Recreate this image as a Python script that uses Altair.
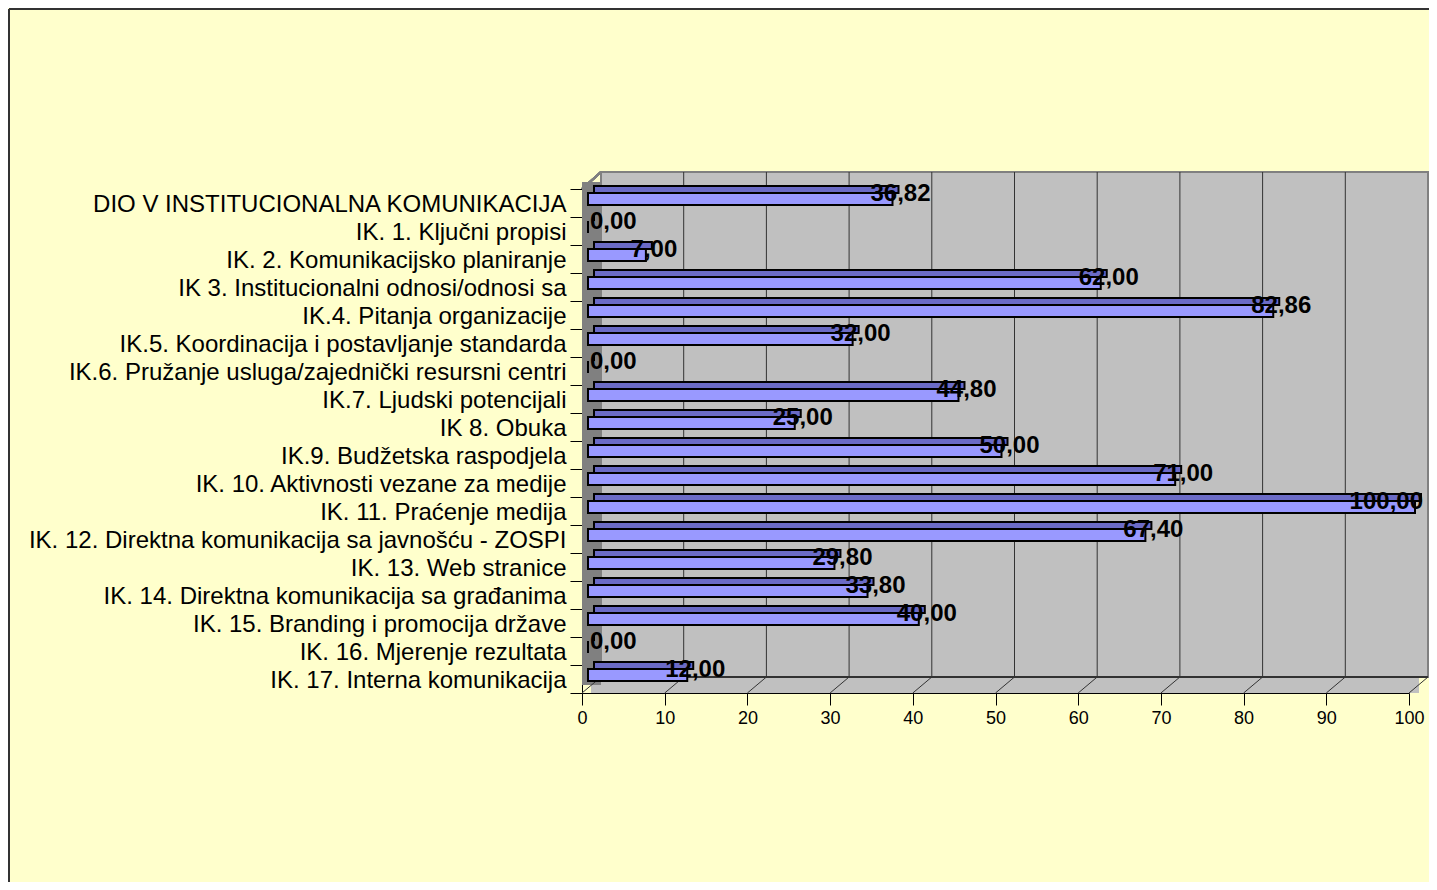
import altair as alt
import pandas as pd

categories = [
    "DIO V INSTITUCIONALNA KOMUNIKACIJA",
    "IK. 1. Ključni propisi",
    "IK. 2. Komunikacijsko planiranje",
    "IK 3. Institucionalni odnosi/odnosi sa",
    "IK.4. Pitanja organizacije",
    "IK.5. Koordinacija i postavljanje standarda",
    "IK.6. Pružanje usluga/zajednički resursni centri",
    "IK.7. Ljudski potencijali",
    "IK 8. Obuka",
    "IK.9. Budžetska raspodjela",
    "IK. 10. Aktivnosti vezane za medije",
    "IK. 11. Praćenje medija",
    "IK. 12. Direktna komunikacija sa javnošću - ZOSPI",
    "IK. 13. Web stranice",
    "IK. 14. Direktna komunikacija sa građanima",
    "IK. 15. Branding i promocija države",
    "IK. 16. Mjerenje rezultata",
    "IK. 17. Interna komunikacija",
]
values = [36.82, 0.00, 7.00, 62.00, 82.86, 32.00, 0.00, 44.80, 25.00,
          50.00, 71.00, 100.00, 67.40, 29.80, 33.80, 40.00, 0.00, 12.00]
ticks = [0, 10, 20, 30, 40, 50, 60, 70, 80, 90, 100]

FONT = "Liberation Sans"
W, H = 846, 521          # plot region (front plane + depth)
FRONT_W = 827            # front plane width (0..100)
DX, DY = 19, 16          # 3D depth offset

df = pd.DataFrame({
    "cat": categories,
    "value": values,
    "label": [f"{v:.2f}".replace(".", ",") for v in values],
})
tick_df = pd.DataFrame({"t": ticks})

xscale = alt.Scale(domain=[0, 100], range=[0, FRONT_W], nice=False, zero=True)
yscale = alt.Scale(domain=categories, range=[17, H], paddingInner=0, paddingOuter=0)

xaxis = alt.Axis(values=ticks, title=None, grid=False, domainColor="black",
                 domainWidth=1, tickColor="black", tickSize=12, tickWidth=1,
                 labelFont=FONT, labelFontSize=18, labelColor="black",
                 labelPadding=4, labelFlush=False, labelOverlap=False)
yaxis = alt.Axis(title=None, grid=False, domainColor="black", domainWidth=1,
                 tickColor="black", tickSize=12, tickWidth=1, tickBand="extent",
                 labelFont=FONT, labelFontSize=24, labelColor="black",
                 labelPadding=4, labelOffset=1, labelLimit=800)

X = lambda f: alt.X(f, type="quantitative", scale=xscale, axis=xaxis)
Y = alt.Y("cat:N", scale=yscale, axis=yaxis, sort=None)

# --- 3D frame -----------------------------------------------------------
back_wall = alt.Chart(tick_df).mark_rect(
    fill="#C0C0C0", stroke="#808080", strokeWidth=2
).encode(x=alt.value(DX), x2=alt.value(W), y=alt.value(0), y2=alt.value(H - DY))

floor = alt.Chart(tick_df).mark_rect(fill="#C0C0C0").encode(
    x=alt.value(DX / 2), x2=alt.value(FRONT_W + DX / 2),
    y=alt.value(H - DY), y2=alt.value(H))

left_wall = alt.Chart(tick_df).mark_rect(fill="#808080").encode(
    x=alt.value(0), x2=alt.value(DX), y=alt.value(17 - DY / 2 + 1), y2=alt.value(H - DY / 2))

edges = alt.Chart(tick_df).mark_rule(color="#808080", strokeWidth=2).encode(
    x=alt.value(0), x2=alt.value(DX), y=alt.value(17), y2=alt.value(0))

gridlines = alt.Chart(tick_df).transform_filter("datum.t > 0 && datum.t < 100").mark_rule(
    color="#333333", strokeWidth=1, xOffset=DX
).encode(x=X("t"), y=alt.value(0), y2=alt.value(H - DY))

floor_back = alt.Chart(tick_df).mark_rule(color="#333333", strokeWidth=1).encode(
    x=alt.value(DX), x2=alt.value(W), y=alt.value(H - DY), y2=alt.value(H - DY))

floor_diag = alt.Chart(tick_df).mark_rule(
    color="#333333", strokeWidth=1, x2Offset=DX
).encode(x=X("t"), x2="t:Q", y=alt.value(H), y2=alt.value(H - DY))

# --- bars ------------------------------------------------------------------
bar_top = alt.Chart(df).mark_bar(
    fill="#6B6BC6", stroke="black", strokeWidth=2, size=7,
    yOffset=-13.5, xOffset=12, x2Offset=9
).encode(x=X("value"), y=Y)

bar_front = alt.Chart(df).mark_bar(
    fill="#9999FF", stroke="black", strokeWidth=2, size=12,
    yOffset=-4, xOffset=6, x2Offset=6
).encode(x=X("value"), y=Y)

txt_kw = dict(font=FONT, fontSize=24, fontWeight="bold", color="black",
              baseline="middle", dy=-9)
txt_mid = alt.Chart(df).transform_filter("datum.value > 0 && datum.value < 100").mark_text(
    align="center", dx=14, **txt_kw).encode(x=X("value"), y=Y, text="label:N")
txt_low = alt.Chart(df).transform_filter("datum.value <= 0").mark_text(
    align="left", dx=8, **txt_kw).encode(x=X("value"), y=Y, text="label:N")
txt_high = alt.Chart(df).transform_filter("datum.value >= 100").mark_text(
    align="right", dx=14, **txt_kw).encode(x=X("value"), y=Y, text="label:N")

# --- outer border ------------------------------------------------------------
border_left = alt.Chart(tick_df).mark_rule(color="#333333", strokeWidth=2).encode(
    x=alt.value(-573), x2=alt.value(-573), y=alt.value(-163), y2=alt.value(H + 200))
border_top = alt.Chart(tick_df).mark_rule(color="#333333", strokeWidth=2).encode(
    x=alt.value(-573), x2=alt.value(W + 20), y=alt.value(-163), y2=alt.value(-163))

chart = alt.layer(
    back_wall, floor, left_wall, edges, gridlines, floor_back, floor_diag,
    bar_top, bar_front, txt_mid, txt_low, txt_high, border_left, border_top,
).properties(
    width=W, height=H,
    autosize=alt.AutoSizeParams(type="none"),
    padding={"left": 574, "top": 164, "right": 1, "bottom": 189},
    background="#FFFFCC",
).configure_view(stroke=None)

chart.save("out.html", embed_options={"renderer": "svg", "actions": False})
